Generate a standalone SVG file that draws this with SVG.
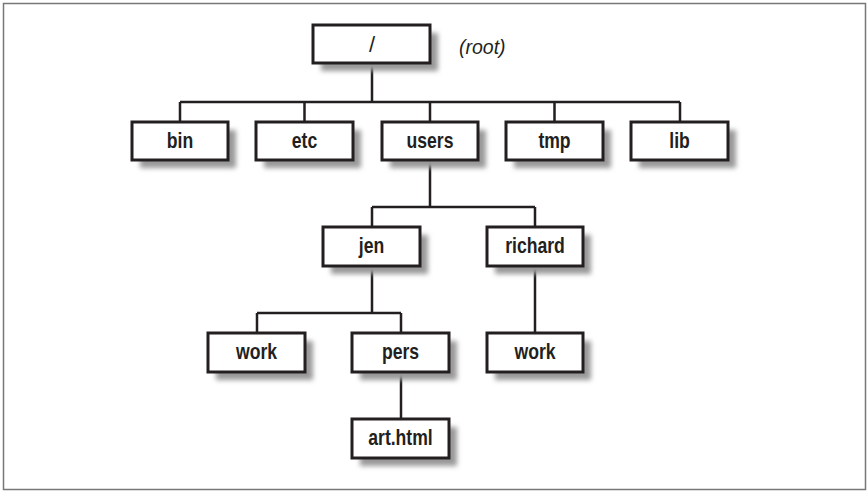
<svg xmlns="http://www.w3.org/2000/svg" width="868" height="492" viewBox="0 0 868 492">
<defs>
<filter id="sh" x="-20%" y="-30%" width="150%" height="180%">
<feGaussianBlur stdDeviation="2.5"/>
</filter>
<style>
.box{fill:#fff;stroke:#231f20;stroke-width:3}
.shd{fill:#9a9a9a;filter:url(#sh)}
.lbl{font-family:"Liberation Sans",Arial,sans-serif;font-weight:bold;font-size:22px;fill:#231f20;text-anchor:middle}
.con{fill:none;stroke:#231f20;stroke-width:2.5}
</style>
</defs>
<rect x="0" y="0" width="868" height="492" fill="#fff"/>
<rect x="3.5" y="3.5" width="862" height="486" fill="none" stroke="#777" stroke-width="1.5"/>
<g id="connectors">
<path class="con" d="M372 63V102M180 102H680M180 102V122M304.5 102V122M430 102V122M554.5 102V122M680 102V122"/>
<path class="con" d="M430 160V207M372 207H535M372 207V227M535 207V227"/>
<path class="con" d="M372 266V313M257 313H401M257 313V333M401 313V333"/>
<path class="con" d="M535 266V333"/>
<path class="con" d="M401 372V419"/>
</g>
<g id="root">
<rect class="shd" x="321" y="33" width="117" height="38"/>
<rect class="box" x="313" y="25" width="117" height="38"/>
<text x="372" y="52" font-family="'Liberation Sans',Arial,sans-serif" font-size="22" fill="#231f20" text-anchor="middle">/</text>
</g>
<text x="459" y="54" font-family="'Liberation Sans',Arial,sans-serif" font-style="italic" font-size="19.5" fill="#231f20">(root)</text>
<g id="bin">
<rect class="shd" x="140" y="130" width="96" height="38"/>
<rect class="box" x="132" y="122" width="96" height="38"/>
<text class="lbl" transform="translate(180 148) scale(0.8 1)">bin</text>
</g>
<g id="etc">
<rect class="shd" x="264" y="130" width="97" height="38"/>
<rect class="box" x="256" y="122" width="97" height="38"/>
<text class="lbl" transform="translate(304.5 148) scale(0.8 1)">etc</text>
</g>
<g id="users">
<rect class="shd" x="390" y="130" width="96" height="38"/>
<rect class="box" x="382" y="122" width="96" height="38"/>
<text class="lbl" transform="translate(430 148) scale(0.8 1)">users</text>
</g>
<g id="tmp">
<rect class="shd" x="514" y="130" width="97" height="38"/>
<rect class="box" x="506" y="122" width="97" height="38"/>
<text class="lbl" transform="translate(554.5 148) scale(0.8 1)">tmp</text>
</g>
<g id="lib">
<rect class="shd" x="639" y="130" width="97" height="38"/>
<rect class="box" x="631" y="122" width="97" height="38"/>
<text class="lbl" transform="translate(679.5 148) scale(0.8 1)">lib</text>
</g>
<g id="jen">
<rect class="shd" x="331" y="235" width="97" height="39"/>
<rect class="box" x="323" y="227" width="97" height="39"/>
<text class="lbl" transform="translate(371.5 253) scale(0.8 1)">jen</text>
</g>
<g id="richard">
<rect class="shd" x="495" y="235" width="96" height="39"/>
<rect class="box" x="487" y="227" width="96" height="39"/>
<text class="lbl" transform="translate(535 253) scale(0.8 1)">richard</text>
</g>
<g id="jen-work">
<rect class="shd" x="216" y="341" width="97" height="39"/>
<rect class="box" x="208" y="333" width="97" height="39"/>
<text class="lbl" transform="translate(256.5 359) scale(0.8 1)">work</text>
</g>
<g id="pers">
<rect class="shd" x="360" y="341" width="97" height="39"/>
<rect class="box" x="352" y="333" width="97" height="39"/>
<text class="lbl" transform="translate(400.5 359) scale(0.8 1)">pers</text>
</g>
<g id="richard-work">
<rect class="shd" x="495" y="341" width="96" height="39"/>
<rect class="box" x="487" y="333" width="96" height="39"/>
<text class="lbl" transform="translate(535 359) scale(0.8 1)">work</text>
</g>
<g id="art-html">
<rect class="shd" x="360" y="427" width="97" height="39"/>
<rect class="box" x="352" y="419" width="97" height="39"/>
<text class="lbl" transform="translate(400.5 445) scale(0.8 1)">art.html</text>
</g>
</svg>
